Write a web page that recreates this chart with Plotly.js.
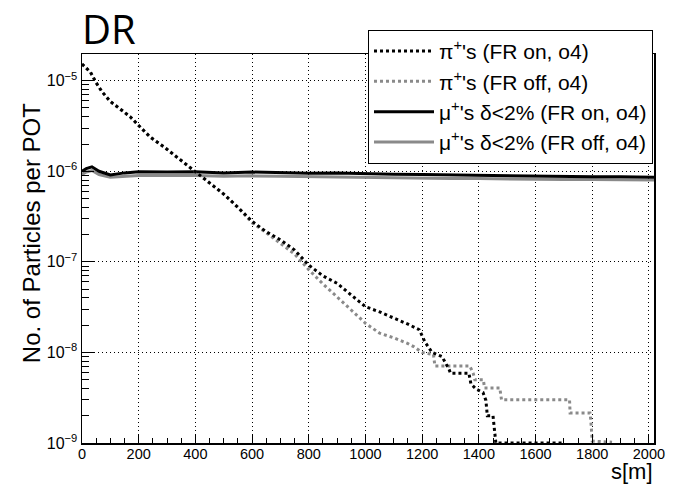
<!DOCTYPE html>
<html>
<head>
<meta charset="utf-8">
<script src="https://cdn.plot.ly/plotly-3.0.1.min.js"></script>
<style>html,body{margin:0;padding:0;background:#fff;}#chart{width:693px;height:485px;}</style>
</head>
<body>
<div id="chart"></div>
<script>
// pi+ FR on
const piOnS = [0,30,50,70,100,130,170,200,240,290,350,400,450,500,550,600,650,700,750,800,850,900,950,1000,1050,1100,1150,1190,1210,1235,1270,1295,1300,1365,1372,1390,1415,1425,1430,1450,1455,1460,1700];
const piOnV = [1.53e-5,1.24e-5,9.5e-6,7.6e-6,5.9e-6,5.0e-6,4.0e-6,3.2e-6,2.4e-6,1.85e-6,1.32e-6,9.9e-7,7.4e-7,5.6e-7,4.0e-7,2.8e-7,2.15e-7,1.75e-7,1.35e-7,9.2e-8,7.0e-8,5.8e-8,4.3e-8,3.2e-8,2.8e-8,2.4e-8,2.05e-8,1.78e-8,1.3e-8,1.0e-8,9.0e-9,6.5e-9,5.9e-9,5.9e-9,4.5e-9,3.95e-9,3.6e-9,2.95e-9,2.0e-9,2.0e-9,1.4e-9,1.0e-9,1.0e-9];
// pi+ FR off
const piOffS = [0,30,50,70,100,130,170,200,240,290,350,400,450,500,550,600,650,700,750,800,850,900,950,1000,1050,1100,1150,1170,1200,1240,1245,1368,1380,1386,1416,1420,1474,1480,1720,1722,1792,1795,1800,1870];
const piOffV = [1.53e-5,1.24e-5,9.5e-6,7.6e-6,5.9e-6,5.0e-6,4.0e-6,3.2e-6,2.4e-6,1.85e-6,1.32e-6,9.9e-7,7.4e-7,5.6e-7,4.0e-7,2.7e-7,2.1e-7,1.6e-7,1.22e-7,8.2e-8,5.7e-8,4.1e-8,2.9e-8,2.1e-8,1.63e-8,1.45e-8,1.25e-8,1.16e-8,1.0e-8,9.5e-9,7.1e-9,7.1e-9,5.9e-9,5.0e-9,5.0e-9,4.05e-9,4.05e-9,3.0e-9,3.0e-9,2.14e-9,2.14e-9,1.8e-9,1.05e-9,1.02e-9];
// mu+ delta<2% FR on / off
const muS = [0,15,35,60,100,150,200,300,400,500,600,700,800,900,1000,1100,1200,1300,1400,1500,1600,1700,1800,1900,2000,2018];
const muOnV = [1.0e-6,1.07e-6,1.12e-6,1.0e-6,9.1e-7,9.6e-7,9.9e-7,9.8e-7,9.9e-7,9.6e-7,9.8e-7,9.7e-7,9.5e-7,9.6e-7,9.4e-7,9.3e-7,9.2e-7,9.1e-7,9.0e-7,8.9e-7,8.8e-7,8.8e-7,8.7e-7,8.7e-7,8.6e-7,8.6e-7];
const muOffV = [9.2e-7,9.8e-7,1.02e-6,9.2e-7,8.6e-7,8.8e-7,9.0e-7,9.0e-7,9.0e-7,8.8e-7,8.9e-7,8.8e-7,8.7e-7,8.6e-7,8.5e-7,8.4e-7,8.4e-7,8.3e-7,8.3e-7,8.2e-7,8.2e-7,8.1e-7,8.1e-7,8.0e-7,8.0e-7,8.0e-7];

const names = ["π<sup>+</sup>'s (FR on, o4)","π<sup>+</sup>'s (FR off, o4)","μ<sup>+</sup>'s δ&lt;2% (FR on, o4)","μ<sup>+</sup>'s δ&lt;2% (FR off, o4)"];
const yTickVals = [1e-9,1e-8,1e-7,1e-6,1e-5];
const yTickText = ["10<sup>−9</sup>","10<sup>−8</sup>","10<sup>−7</sup>","10<sup>−6</sup>","10<sup>−5</sup>"];

const GRAY = "#8a8a8a";
const DOTS = "3px,3px";
const traces = [
  {x: muS, y: muOffV, name: names[3], legendrank: 4, mode: "lines", line: {color: GRAY, width: 3}},
  {x: muS, y: muOnV, name: names[2], legendrank: 3, mode: "lines", line: {color: "#000", width: 3}},
  {x: piOffS, y: piOffV, name: names[1], legendrank: 2, mode: "lines", line: {color: GRAY, width: 3, dash: DOTS}},
  {x: piOnS, y: piOnV, name: names[0], legendrank: 1, mode: "lines", line: {color: "#000", width: 3, dash: DOTS}}
];

const font = "Liberation Sans, Arial, sans-serif";
const layout = {
  width: 693, height: 485,
  margin: {l: 82, r: 39, t: 54, b: 42},
  paper_bgcolor: "#fff", plot_bgcolor: "#fff",
  font: {family: font, size: 15, color: "#000"},
  showlegend: true,
  legend: {x: 0.5, xanchor: "left", y: 1.062, yanchor: "top", bgcolor: "#fff", bordercolor: "#000", borderwidth: 1,
           font: {family: font, size: 21}, tracegroupgap: 0, traceorder: "normal", itemwidth: 60},
  xaxis: {
    range: [0, 2018], tickmode: "linear", tick0: 0, dtick: 200,
    ticks: "inside", ticklen: 9, tickcolor: "#000", ticklabelstandoff: -3,
    showline: true, linecolor: "#000", linewidth: 1.5, mirror: true,
    showgrid: true, gridcolor: "#000", griddash: "1px,3px", gridwidth: 1,
    zeroline: false, tickfont: {family: font, size: 14.5},
    minor: {dtick: 50, ticks: "inside", ticklen: 5, tickcolor: "#000", showgrid: false}
  },
  yaxis: {
    type: "log", range: [-9, -4.705],
    tickmode: "array", tickvals: yTickVals, ticktext: yTickText,
    ticks: "inside", ticklen: 12, tickcolor: "#000",
    showline: true, linecolor: "#000", linewidth: 1.5, mirror: true,
    showgrid: true, gridcolor: "#000", griddash: "1px,3px", gridwidth: 1,
    zeroline: false, tickfont: {family: font, size: 16},
    minor: {dtick: "D1", ticks: "inside", ticklen: 7, tickcolor: "#000", showgrid: false}
  },
  annotations: [
    {text: "DR", xref: "paper", yref: "paper", x: -0.003, y: 0.99, xanchor: "left", yanchor: "bottom", showarrow: false, font: {family: "Open Sans, sans-serif", size: 40, color: "#000"}},
    {text: "No. of Particles per POT", xref: "paper", yref: "paper", x: -0.087, y: 0.54, xanchor: "center", yanchor: "middle", textangle: -90, showarrow: false, font: {family: font, size: 24}},
    {text: "s[m]", xref: "paper", yref: "paper", x: 1.002, y: -0.072, xanchor: "right", yanchor: "middle", showarrow: false, font: {family: font, size: 22}}
  ]
};
Plotly.newPlot("chart", traces, layout, {displayModeBar: false, staticPlot: true});
</script>
</body>
</html>
